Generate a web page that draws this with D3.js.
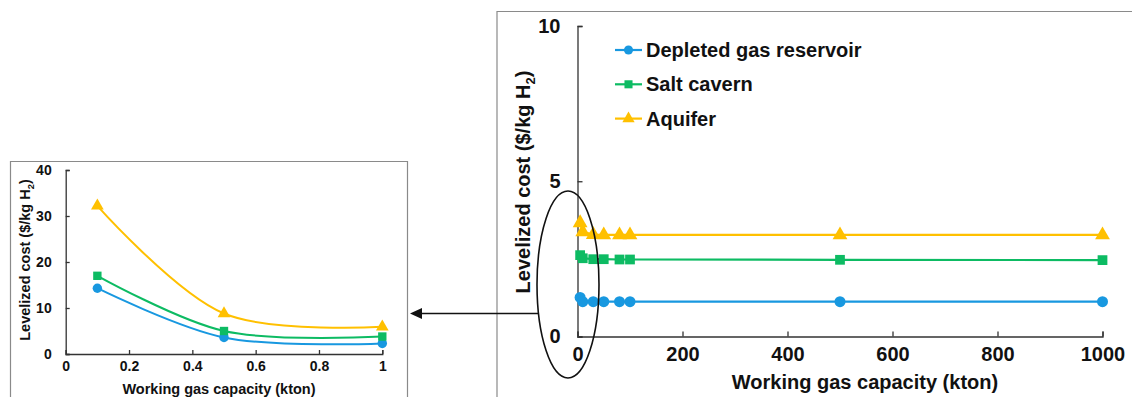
<!DOCTYPE html>
<meta charset="utf-8">
<style>
    body { margin: 0; background: #fff; }
    text { font-family: "Liberation Sans", Arial, sans-serif; font-weight: bold; fill: #111; }
    .axis path, .axis line { stroke: #333; stroke-width: 1.3; }
    .frame { fill: none; stroke: #8a8a8a; stroke-width: 1.2; }
</style>
<svg width="1132" height="397"></svg>
<script src="https://d3js.org/d3.v7.min.js"></script>
<script>

    var seriesNames = ["Depleted gas reservoir", "Salt cavern", "Aquifer"],
        colors = ["#1898e0", "#0dbb63", "#ffc000"],
        shapes = [d3.symbolCircle, d3.symbolSquare, d3.symbolTriangle];

    // inset chart (small capacities)
    var smallCap = [0.1, 0.5, 1],
        smallDepleted = [14.3, 3.6, 2.3],
        smallSalt = [17.0, 5.0, 3.8],
        smallAquifer = [32.2, 8.8, 5.9],
        smallXTicks = [0, 0.2, 0.4, 0.6, 0.8, 1],
        smallYTicks = [0, 10, 20, 30, 40];

    // main chart
    var bigCap = [5, 10, 30, 50, 80, 100, 500, 1000],
        bigDepleted = [1.26, 1.12, 1.12, 1.12, 1.12, 1.12, 1.12, 1.12],
        bigSalt = [2.62, 2.52, 2.49, 2.49, 2.48, 2.48, 2.47, 2.46],
        bigAquifer = [3.66, 3.37, 3.28, 3.27, 3.27, 3.27, 3.27, 3.27],
        bigXTicks = [0, 200, 400, 600, 800, 1000],
        bigYTicks = [0, 5, 10];

    var svg = d3.select("svg");

    // panel frames
    svg.append("path").attr("class", "frame")
        .attr("d", "M10.5,397V161.5H407.5V397");
    svg.append("path").attr("class", "frame")
        .attr("d", "M497,397V11.5H1132");

    function drawChart(opt) {
        var x = d3.scaleLinear().domain(opt.xDomain).range(opt.xRange),
            y = d3.scaleLinear().domain(opt.yDomain).range(opt.yRange);
        var g = svg.append("g");

        g.append("g")
            .attr("class", "axis")
            .attr("transform", "translate(0," + opt.yRange[0] + ")")
            .call(d3.axisBottom(x).tickValues(opt.xTicks).tickSizeInner(-opt.tick).tickSizeOuter(-opt.tick)
                .tickPadding(opt.tick + opt.xPad).tickFormat(d3.format("")))
            .call(function(a) { a.selectAll("text").style("font-size", opt.font + "px").attr("fill", "#111"); });

        g.append("g")
            .attr("class", "axis")
            .attr("transform", "translate(" + opt.xRange[0] + ",0)")
            .call(d3.axisLeft(y).tickValues(opt.yTicks).tickSizeInner(-opt.tick).tickSizeOuter(-opt.tick)
                .tickPadding(opt.tick + opt.yPad))
            .call(function(a) { a.selectAll("text").style("font-size", opt.font + "px").attr("fill", "#111"); });

        g.append("text")
            .attr("x", opt.xTitleX)
            .attr("y", opt.xTitleY)
            .attr("text-anchor", "middle")
            .style("font-size", opt.titleFont + "px")
            .text("Working gas capacity (kton)");

        var yt = g.append("text")
            .attr("transform", "translate(" + opt.yTitleX + "," + opt.yTitleY + ") rotate(-90)")
            .attr("text-anchor", "middle")
            .style("font-size", opt.titleFont + "px");
        yt.append("tspan").text("Levelized cost ($/kg H");
        yt.append("tspan").attr("dy", opt.titleFont * 0.25).style("font-size", opt.titleFont * 0.65 + "px").text("2");
        yt.append("tspan").attr("dy", -opt.titleFont * 0.25).text(")");

        var line = d3.line()
            .x(function(d) { return x(d[0]); })
            .y(function(d) { return y(d[1]); })
            .curve(opt.curve);

        opt.series.forEach(function(vals, i) {
            var pts = opt.xs.map(function(v, j) { return [v, vals[j]]; });
            g.append("path")
                .attr("d", line(pts))
                .attr("fill", "none")
                .attr("stroke", colors[i])
                .attr("stroke-width", opt.lw);
            g.selectAll(".m" + i)
                .data(pts)
                .enter().append("path")
                .attr("transform", function(d) { return "translate(" + x(d[0]) + "," + y(d[1]) + ")"; })
                .attr("d", d3.symbol().type(shapes[i]).size(opt.msize))
                .attr("fill", colors[i]);
        });
        return {x: x, y: y};
    }

    drawChart({
        xDomain: [0, 1], xRange: [65.7, 382.3],
        yDomain: [0, 40], yRange: [354, 170],
        xTicks: smallXTicks, yTicks: smallYTicks,
        xs: smallCap, series: [smallDepleted, smallSalt, smallAquifer],
        tick: 4, xPad: 3, yPad: 10, font: 14, titleFont: 14.5,
        xTitleX: 219, xTitleY: 394, yTitleX: 30, yTitleY: 260,
        curve: d3.curveCatmullRom.alpha(0.5), lw: 2, msize: 70
    });

    drawChart({
        xDomain: [0, 1000], xRange: [577.5, 1102.5],
        yDomain: [0, 10], yRange: [336.5, 26],
        xTicks: bigXTicks, yTicks: bigYTicks,
        xs: bigCap, series: [bigDepleted, bigSalt, bigAquifer],
        tick: 5, xPad: 5, yPad: 12, font: 20, titleFont: 20,
        xTitleX: 865, xTitleY: 389, yTitleX: 530, yTitleY: 182,
        curve: d3.curveLinear, lw: 2.2, msize: 95
    });

    // legend
    var legend = svg.append("g");
    seriesNames.forEach(function(name, i) {
        var ly = 50 + i * 34.3;
        legend.append("line")
            .attr("x1", 615).attr("x2", 642).attr("y1", ly).attr("y2", ly)
            .attr("stroke", colors[i]).attr("stroke-width", 2.2);
        legend.append("path")
            .attr("transform", "translate(628.5," + ly + ")")
            .attr("d", d3.symbol().type(shapes[i]).size(65))
            .attr("fill", colors[i]);
        legend.append("text")
            .attr("x", 646).attr("y", ly + 7)
            .style("font-size", "20px")
            .text(name);
    });

    // ellipse highlight and arrow
    svg.append("ellipse")
        .attr("cx", 568).attr("cy", 284.5).attr("rx", 31).attr("ry", 93.5)
        .attr("fill", "none").attr("stroke", "#111").attr("stroke-width", 1.6);
    svg.append("line")
        .attr("x1", 538.5).attr("x2", 421).attr("y1", 313.5).attr("y2", 313.5)
        .attr("stroke", "#111").attr("stroke-width", 1.3);
    svg.append("path")
        .attr("d", "M410,313.5L422,308L422,319Z")
        .attr("fill", "#111");
</script>
